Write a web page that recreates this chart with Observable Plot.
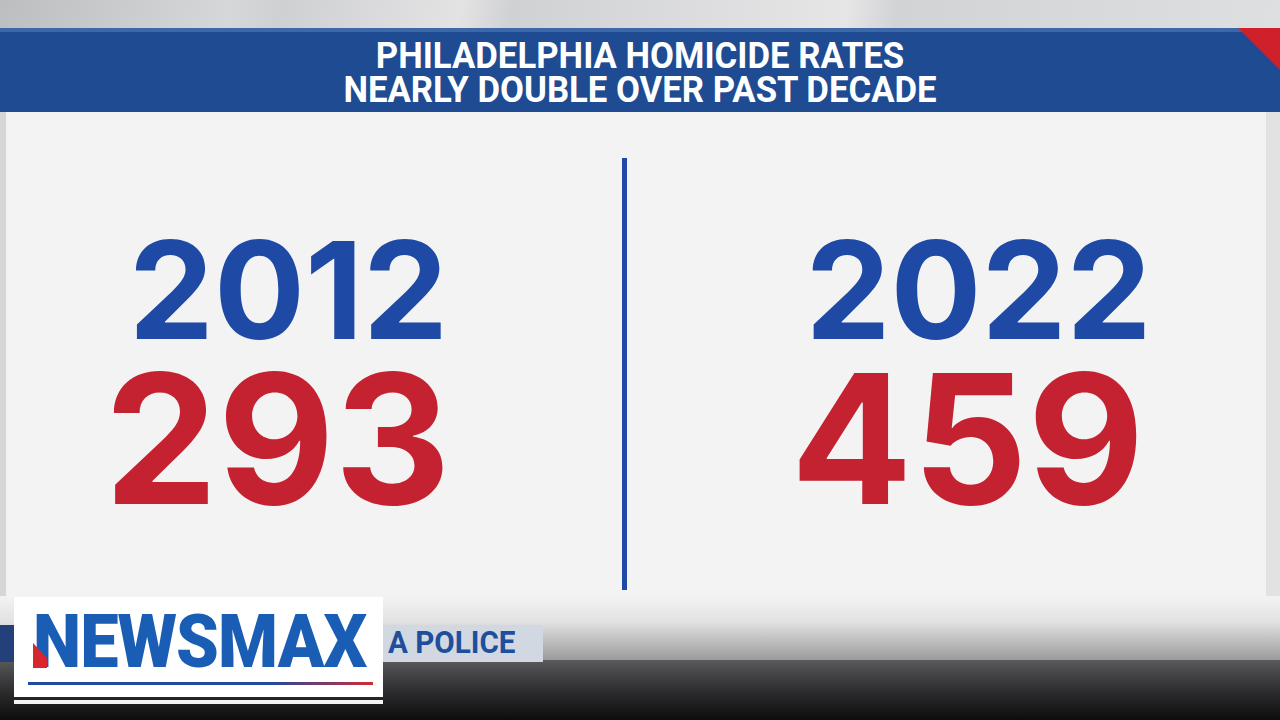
<!DOCTYPE html>
<html>
<head>
<meta charset="utf-8">
<script src="https://cdn.jsdelivr.net/npm/d3@7"></script>
<script src="https://cdn.jsdelivr.net/npm/@observablehq/plot@0.6"></script>
<style>
  html, body { margin: 0; padding: 0; }
  body { width: 1280px; height: 720px; overflow: hidden; position: relative; background: #f3f3f3; font-family: Roboto, "Noto Sans", sans-serif; }
  .abs { position: absolute; }
  #top { left: 0; top: 0; width: 1280px; height: 28px;
    background: linear-gradient(100deg, #bdbec0 0%, #d6d7d9 18%, #cfd0d2 22%, #e3e3e4 36%, #d0d1d3 40%, #e6e6e7 66%, #d2d3d5 70%, #dedfe0 100%); }
  #banner { left: 0; top: 28px; width: 1280px; height: 84px; background: #1e4b92;
    border-top: 4px solid #3c68aa; box-sizing: border-box; }
  #title { left: 0; top: 39px; width: 1280px; text-align: center; color: #fff; font-weight: 700;
    font-size: 36px; line-height: 34px; transform: scaleX(0.965); transform-origin: 640px 0; }
  #tri { left: 1238px; top: 28px; width: 42px; height: 42px; background: #d0202c;
    clip-path: polygon(0 0, 100% 0, 100% 100%); }
  #panel { left: 0; top: 112px; }
  #edgeL { left: 0; top: 112px; width: 6px; height: 500px; background: #d6d6d6; }
  #edgeR { left: 1266px; top: 112px; width: 14px; height: 548px; background: #e2e2e2; }
  #fade { left: 0; top: 596px; width: 1280px; height: 64px; background: linear-gradient(#f3f3f3 0%, #e2e2e2 40%, #9b9b9b 100%); }
  #dark { left: 0; top: 660px; width: 1280px; height: 60px; background: linear-gradient(#5a5a5c 0%, #2e2e30 50%, #0c0c0c 100%); }
  #chyron { left: 383px; top: 625px; width: 160px; height: 37px; background: #d2d8e1; }
  #chyronText { left: 388px; top: 624px; color: #1e4f9c; font-weight: 700; font-size: 32px; line-height: 36px;
    transform: scaleX(0.925); transform-origin: 0 0; }
  #chyronL { left: 0; top: 625px; width: 14px; height: 37px; background: #23407a; }
  #logo { left: 14px; top: 597px; width: 369px; height: 100px; background: #fff; }
  #logoLine { left: 14px; top: 700px; width: 369px; height: 4px; background: #f4f4f4; }
  #logoText { left: 33px; top: 602px; color: #1a5db5; font-weight: 900; font-size: 74px; line-height: 80px;
    transform: scaleX(0.925); transform-origin: 0 0; letter-spacing: -1px; }
  #logoRed { left: 33px; top: 643px; width: 14px; height: 25px; background: #d8262e;
    clip-path: polygon(0 0, 100% 60%, 100% 100%, 0 100%); }
  #logoRule { left: 28px; top: 682px; width: 345px; height: 3px; background: linear-gradient(90deg, #1e4aa0 0%, #1e4aa0 70%, #d02a36 100%); }
</style>
</head>
<body>
<div id="top" class="abs"></div>
<div id="banner" class="abs"></div>
<div id="tri" class="abs"></div>
<div id="title" class="abs">PHILADELPHIA HOMICIDE RATES<br>NEARLY DOUBLE OVER PAST DECADE</div>
<div id="panel" class="abs"></div>
<div id="edgeL" class="abs"></div>
<div id="edgeR" class="abs"></div>
<div id="fade" class="abs"></div>
<div id="dark" class="abs"></div>
<div id="chyronL" class="abs"></div>
<div id="chyron" class="abs"></div>
<div id="chyronText" class="abs">A POLICE</div>
<div id="logo" class="abs"></div>
<div id="logoLine" class="abs"></div>
<div id="logoText" class="abs">NEWSMAX</div>
<div id="logoRed" class="abs"></div>
<div id="logoRule" class="abs"></div>
<script>
const years = [2012, 2022];
const homicides = [293, 459];
const rowNames = ["year", "count"];
const divider = [2017];

const blue = "#1e4aa6";
const red = "#c42131";
const numFont = "Inter, 'Open Sans', sans-serif";

const rows = years.map((year, i) => ({year: year, homicides: homicides[i]}));

let chart = Plot.plot({
  width: 1280,
  height: 500,
  marginLeft: 277,
  marginRight: 313,
  marginTop: 46,
  marginBottom: 22,
  x: {domain: years, axis: null},
  y: {domain: rowNames, type: "point", padding: 0.885, axis: null},
  style: {background: "transparent", overflow: "visible"},
  marks: [
    Plot.ruleX(divider, {stroke: blue, strokeWidth: 5, dx: 2}),
    Plot.text(rows, {
      x: "year",
      y: () => "year",
      text: d => String(d.year),
      dx: 11,
      dy: -2,
      fill: blue,
      fontSize: 135,
      fontWeight: 700,
      fontFamily: numFont,
    }),
    Plot.text(rows, {
      x: "year",
      y: () => "count",
      text: d => String(d.homicides),
      dy: -6,
      fill: red,
      fontSize: 180,
      fontWeight: 700,
      fontFamily: numFont,
    }),
  ],
});
d3.select("#panel").append(() => chart);
</script>
</body>
</html>
